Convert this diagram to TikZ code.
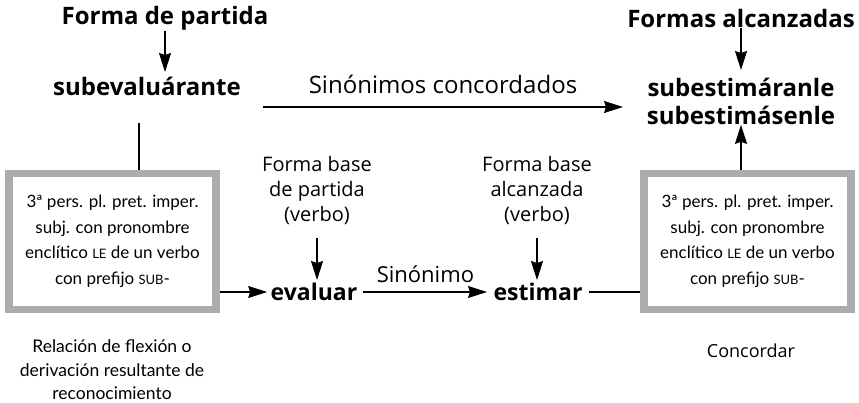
\documentclass[tikz,border=0pt]{standalone}
\usepackage{fontspec}
\setmainfont{Open Sans}
\newfontfamily\estrecha{Lato}
\usetikzlibrary{arrows.meta, positioning}
\newcommand{\versal}[1]{{\fontsize{13}{13}\selectfont #1}}

\begin{document}
\begin{tikzpicture}[x=1pt, y=-1pt, > = {Stealth[length=19pt, width=12pt, inset=2pt]}, line width=1.1pt,
    lbl/.style = {font=\fontsize{20}{25}\selectfont, align=center, inner sep=0pt},
    hdr/.style = {font=\bfseries\fontsize{24}{28}\selectfont, align=center, inner sep=0pt},
    frm/.style = {font=\bfseries\fontsize{23}{24}\selectfont, inner sep=0pt},
    cond/.style = {font=\estrecha\fontsize{17.5}{23.5}\selectfont, align=center, inner sep=0pt},
    caja/.style = {draw=gray!65, line width=7.5pt, minimum width=207pt, minimum height=136pt,
                   inner sep=0pt, font=\estrecha\fontsize{17}{25.5}\selectfont, align=center}]
    \useasboundingbox (0,0) rectangle (859,402);
    % forma de partida
    \node[hdr]      (partida)   at (165,18)     {Forma de partida};
    \node[hdr]      (subev)     at (147,86)     {subevaluárante};
    \node[caja]     (cajaI)     at (112.5,241.5) {3ª pers. pl. pret. imper.\\subj. con pronombre\\enclítico \versal{LE} de un verbo\\con prefijo \versal{SUB}-};
    \node[cond]     (relacion)  at (112,370)    {Relación de flexión o\\derivación resultante de\\reconocimiento};
    % formas alcanzadas
    \node[hdr]      (alcanz)    at (741,18)     {Formas alcanzadas};
    \node[hdr]      (subest)    at (741,101)    {subestimáranle\\subestimásenle};
    \node[caja]     (cajaD)     at (747.5,241.5) {3ª pers. pl. pret. imper.\\subj. con pronombre\\enclítico \versal{LE} de un verbo\\con prefijo \versal{SUB}-};
    \node[lbl, font=\fontsize{18}{22}\selectfont] (concordar) at (751,351) {Concordar};
    % formas base
    \node[lbl]      (baseP)     at (317,190)    {Forma base\\de partida\\(verbo)};
    \node[lbl]      (baseA)     at (537,190)    {Forma base\\alcanzada\\(verbo)};
    \node[frm]      (evaluar)   at (314,292)    {evaluar};
    \node[frm]      (estimar)   at (538,292)    {estimar};
    \coordinate     (sinI)      at (263,107);
    \coordinate     (sinD)      at (623,107);
    % conexiones
    \draw[->]   (partida)   -- (165,72);
    \draw[->]   (alcanz)    -- (741,70);
    \draw[->]   (sinI)      -- node[lbl, font=\fontsize{24}{26}\selectfont, above=13pt] {Sinónimos concordados} (sinD);
    \draw       (139,123)   -- (139,170);
    \draw[->, shorten > = 3pt]  (cajaI.east |- evaluar) -- (evaluar);
    \draw[->, shorten < = 5pt, shorten > = 6pt] (evaluar) -- node[lbl, font=\fontsize{22}{24}\selectfont, above=9pt] {Sinónimo} (estimar);
    \draw[shorten < = 6pt]      (estimar)   -- (estimar -| cajaD.west);
    \draw[->]   (317,238)   -- (317,280);
    \draw[->]   (537,238)   -- (537,280);
    \draw[->]   (cajaD.north -| subest) -- (subest);
\end{tikzpicture}
\end{document}
